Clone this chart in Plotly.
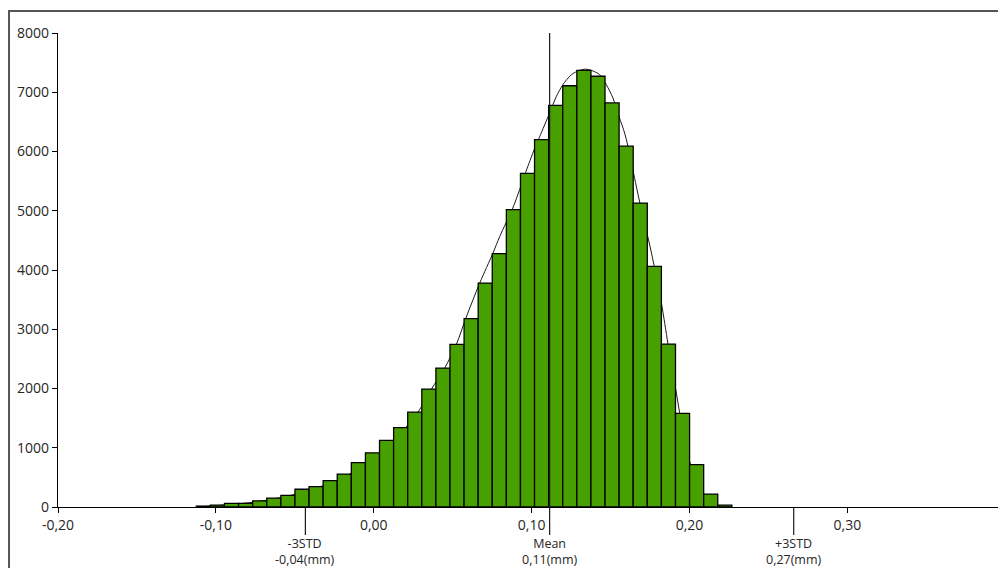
import plotly.graph_objects as go

# ---------------- data ----------------
bin_start = -0.1124
bin_width = 0.008927
counts = [15, 30, 60, 60, 105, 150, 195, 300, 345, 445,
          555, 750, 915, 1125, 1340, 1600, 1990, 2345, 2745, 3180,
          3780, 4275, 5020, 5630, 6200, 6780, 7110, 7370, 7270, 6820,
          6090, 5130, 4060, 2750, 1580, 715, 218, 30]

curve_x = [-0.1124, -0.1034, -0.0945, -0.0856, -0.0767, -0.0677, -0.0588, -0.0499,
           -0.0410, -0.0320, -0.0231, -0.0142, -0.0053, 0.0036, 0.0125, 0.0202,
           0.0280, 0.0365, 0.0449, 0.0523, 0.0582, 0.0671, 0.0755, 0.0798,
           0.0878, 0.0924, 0.0962, 0.1019, 0.1051, 0.1114, 0.1157, 0.1198,
           0.1252, 0.1304, 0.1341, 0.1378, 0.1431, 0.1473, 0.1515, 0.1553,
           0.1589, 0.1610, 0.1680, 0.1758, 0.1822, 0.1864, 0.1917, 0.1938,
           0.2003, 0.2092, 0.2180, 0.2269]
curve_y = [0, 15, 35, 55, 80, 115, 160, 215,
           290, 360, 450, 570, 740, 920, 1125, 1340,
           1600, 1988, 2343, 2742, 3176, 3778, 4285, 4566,
           5028, 5355, 5647, 6050, 6250, 6650, 6931, 7128,
           7297, 7370, 7390, 7370, 7297, 7128, 6904, 6593,
           6312, 6086, 5200, 4300, 3441, 2748, 1921, 1583,
           750, 220, 30, 0]

x_tick_vals = [-0.20, -0.10, 0.00, 0.10, 0.20, 0.30]
x_tick_text = ["-0,20", "-0,10", "0,00", "0,10", "0,20", "0,30"]
y_tick_vals = [0, 1000, 2000, 3000, 4000, 5000, 6000, 7000, 8000]
y_tick_text = ["0", "1000", "2000", "3000", "4000", "5000", "6000", "7000", "8000"]

stat_names = ["-3STD", "Mean", "+3STD"]
stat_values = [-0.0433, 0.1114, 0.2660]
stat_labels = ["-0,04(mm)", "0,11(mm)", "0,27(mm)"]

# ---------------- figure ----------------
X_RANGE = [-0.2, 0.3954]
Y_RANGE = [0, 8000]
FONT = "Open Sans"
TXT = "#262626"

bin_centers = [bin_start + (i + 0.5) * bin_width for i in range(len(counts))]

fig = go.Figure()

# fitted curve (drawn on the base axes -> behind the bars)
fig.add_trace(go.Scatter(
    x=curve_x, y=curve_y, mode="lines",
    line=dict(color="#1a1a1a", width=1, shape="spline", smoothing=0.8),
    xaxis="x", yaxis="y", hoverinfo="skip", showlegend=False))

# histogram bars (on overlaying axes -> in front of curve)
fig.add_trace(go.Bar(
    x=bin_centers, y=counts, width=bin_width,
    marker=dict(color="#48a000", line=dict(color="#000000", width=1.3)),
    xaxis="x2", yaxis="y2", showlegend=False))

shapes = []
annotations = []
for name, val, lab in zip(stat_names, stat_values, stat_labels):
    top = 1.0 if name == "Mean" else 0.0
    shapes.append(dict(type="line", xref="x", yref="paper",
                       x0=val, x1=val, y0=-0.059, y1=top,
                       line=dict(color="#1a1a1a", width=1.2), layer="above"))
    annotations.append(dict(x=val, y=-0.058, xref="x", yref="paper",
                            text=name + "<br>" + lab, showarrow=False,
                            xanchor="center", yanchor="top", align="center",
                            borderpad=0,
                            font=dict(family=FONT, size=12.5, color=TXT)))

# outer frame of the chart control
shapes.append(dict(type="rect", xref="paper", yref="paper",
                   x0=-0.0521, x1=1.2, y0=-0.3, y1=1.0464,
                   line=dict(color="#555555", width=2), layer="above"))

axis_common = dict(showgrid=False, zeroline=False, showline=True,
                   linecolor="#000000", linewidth=1.2,
                   ticks="outside", ticklen=5, tickwidth=1, tickcolor="#000000",
                   tickfont=dict(family=FONT, size=14, color=TXT))

fig.update_layout(
    width=998, height=568,
    margin=dict(l=58, r=0, t=33, b=61, autoexpand=False),
    paper_bgcolor="white", plot_bgcolor="white",
    showlegend=False, bargap=0,
    xaxis=dict(range=X_RANGE, tickvals=x_tick_vals, ticktext=x_tick_text, **axis_common),
    yaxis=dict(range=Y_RANGE, tickvals=y_tick_vals, ticktext=y_tick_text, **axis_common),
    xaxis2=dict(range=X_RANGE, overlaying="x", visible=False),
    yaxis2=dict(range=Y_RANGE, overlaying="y", visible=False),
    shapes=shapes, annotations=annotations,
)

fig.write_html("out.html",
               config={"displayModeBar": False, "staticPlot": True},
               post_script="document.body.style.margin='0';document.body.style.overflow='hidden';")
